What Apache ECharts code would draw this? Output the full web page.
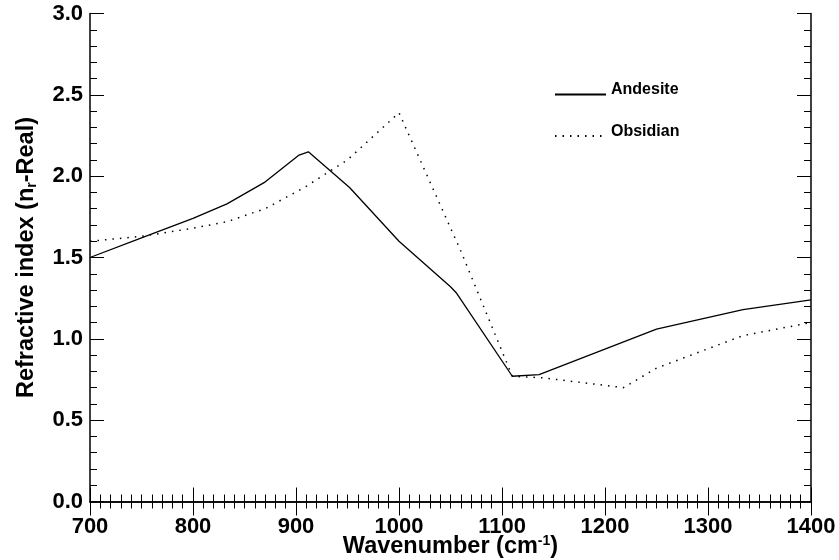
<!DOCTYPE html>
<html>
<head>
<meta charset="UTF-8">
<title>Refractive index</title>
<script src="https://cdn.jsdelivr.net/npm/echarts@6/dist/echarts.min.js"></script>
<style>
    html, body { margin: 0; padding: 0; background: #fff; }
    #chart { width: 839px; height: 560px; }
</style>
</head>
<body>
<div id="chart"></div>
<script>
    // wavenumber (cm-1), refractive index n_r
    var andesiteX = [700, 750, 800, 833, 869, 903, 912, 952, 1000, 1050, 1056, 1110, 1136, 1250, 1334, 1400]
    var andesiteY = [1.50, 1.62, 1.74, 1.83, 1.96, 2.13, 2.15, 1.93, 1.60, 1.32, 1.28, 0.77, 0.78, 1.06, 1.18, 1.24]
    var obsidianX = [700, 750, 800, 833, 870, 908, 950, 1000, 1060, 1110, 1140, 1218, 1250, 1334, 1400]
    var obsidianY = [1.60, 1.63, 1.68, 1.72, 1.80, 1.93, 2.10, 2.39, 1.54, 0.77, 0.76, 0.70, 0.82, 1.02, 1.10]

    var font = 'Liberation Sans, Arial, Helvetica, sans-serif'

    function pairs (xs, ys) {
        return xs.map((x, i) => [x, ys[i]])
    }

    // one axis: major (labelled or not) or minor ticks only, ticks pointing inwards
    function axisDef (dim, pos, minor, show) {
        var isX = dim === 'x'
        var name = ''
        if (show) name = isX ? 'Wavenumber (cm{sup|-1})' : 'Refractive index (n{sub|r}-Real)'
        var axis = {
            type: 'value', position: pos,
            min: isX ? 700 : 0, max: isX ? 1400 : 3,
            interval: isX ? (minor ? 10 : 100) : (minor ? 0.1 : 0.5),
            name: name,
            nameLocation: 'middle', nameGap: isX ? 33 : 51,
            nameTextStyle: {
                fontFamily: font, fontWeight: 'bold', fontSize: 23.5, color: '#000',
                rich: {
                    sup: { fontFamily: font, fontWeight: 'bold', fontSize: 14, color: '#000', verticalAlign: 'top', padding: [0, 0, 10, 0] },
                    sub: { fontFamily: font, fontWeight: 'bold', fontSize: 14, color: '#000', verticalAlign: 'bottom', padding: [10, 0, 0, 0] }
                }
            },
            axisLine: { show: !minor, lineStyle: { color: '#000', width: 1.5 } },
            axisTick: { show: true, inside: true, length: minor ? 7 : 14, lineStyle: { color: '#000', width: 1 } },
            axisLabel: {
                show: show, margin: isX ? 14 : 7, fontFamily: font, fontWeight: 'bold', fontSize: 22, color: '#000',
                formatter: v => isX ? String(v) : v.toFixed(1)
            },
            splitLine: { show: false }
        }
        if (isX) axis.nameMoveOverlap = false
        return axis
    }

    var chart = echarts.init(document.getElementById('chart'))
    var option = {
        animation: false,
        backgroundColor: '#fff',
        grid: { left: 90, right: 28, top: 13.5, bottom: 58.5, containLabel: false, outerBoundsMode: 'none' },
        xAxis: [
            axisDef('x', 'bottom', false, true),
            axisDef('x', 'bottom', true, false),
            axisDef('x', 'top', false, false),
            axisDef('x', 'top', true, false)
        ],
        yAxis: [
            axisDef('y', 'left', false, true),
            axisDef('y', 'left', true, false),
            axisDef('y', 'right', false, false),
            axisDef('y', 'right', true, false)
        ],
        legend: {
            left: 549, top: 76.5, orient: 'vertical', itemWidth: 51, itemHeight: 14, itemGap: 23,
            itemStyle: { opacity: 0 },
            formatter: '{t|{name}}',
            textStyle: {
                fontFamily: font, fontWeight: 'bold', fontSize: 16, color: '#000',
                rich: { t: { fontFamily: font, fontWeight: 'bold', fontSize: 16, color: '#000', padding: [0, 0, 10, 0] } }
            },
            data: ['Andesite', 'Obsidian']
        },
        series: [{
            name: 'Andesite',
            type: 'line',
            symbol: 'none',
            data: pairs(andesiteX, andesiteY),
            lineStyle: { color: '#000', width: 1.3, type: 'solid' },
            itemStyle: { color: '#000' }
        }, {
            name: 'Obsidian',
            type: 'line',
            symbol: 'none',
            data: pairs(obsidianX, obsidianY),
            lineStyle: { color: '#000', width: 1.5, type: [1.5, 6] },
            itemStyle: { color: '#000' }
        }]
    }
    chart.setOption(option)
</script>
</body>
</html>
